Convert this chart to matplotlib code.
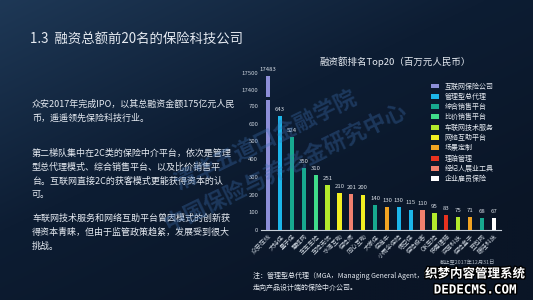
import numpy as np
import matplotlib
matplotlib.use("Agg")
import matplotlib.pyplot as plt
import matplotlib.patheffects as pe
from matplotlib.patches import Patch

plt.rcParams['font.family'] = ['Noto Sans CJK SC', 'DejaVu Sans']

companies = ["众安在线", "大特保", "量子保", "慧择网", "车车车险", "车险无忧", "水滴互助",
             "保险师", "同心互助", "大家保", "保准牛", "小雨伞保险", "悟空保", "保险极客",
             "OK车险", "快易理赔", "评驾科技", "保险盒子", "豆包网", "暖哇科技"]
values = [17483, 643, 524, 350, 310, 251, 210, 201, 200, 140, 130, 130, 115, 110,
          95, 83, 75, 71, 68, 67]
categories = ["互联网保险公司", "管理型总代理", "综合销售平台", "比价销售平台", "车联网技术服务",
              "网络互助平台", "场景定制", "理赔管理", "经纪人展业工具", "企业雇员保险"]
cat_colors = ["#8d8fd8", "#1cb6ea", "#17a98f", "#3fdc8a", "#b2ea2c",
              "#f2ee22", "#f0a322", "#e8321f", "#f0806e", "#ffffff"]
bar_cat = [0, 1, 2, 2, 3, 4, 5, 8, 5, 2, 6, 1, 1, 8, 4, 7, 4, 6, 2, 9]
bottom_ticks = [0, 100, 200, 300, 400, 500, 600, 700]
top_ticks = [17400, 17500]

W, H = 533, 300
fig = plt.figure(figsize=(W / 100, H / 100), dpi=100)

def fr(x0, y0, x1, y1):
    return [x0 / W, 1 - y1 / H, (x1 - x0) / W, (y1 - y0) / H]

# background gradient
bg = fig.add_axes([0, 0, 1, 1], zorder=-10)
yy, xx = np.mgrid[0:1:200j, 0:1:300j]
d = np.clip(0.55 * xx + 0.65 * yy, 0, 1)
c0 = np.array([0x1e, 0x38, 0x56]) / 255
c1 = np.array([0x0d, 0x1d, 0x33]) / 255
c2 = np.array([0x0a, 0x15, 0x26]) / 255
img = np.where(d[..., None] < 0.5,
               c0 + (c1 - c0) * (d[..., None] / 0.5),
               c1 + (c2 - c1) * ((d[..., None] - 0.5) / 0.5))
bg.imshow(img, aspect='auto', extent=[0, 1, 0, 1], origin='upper')
bg.set_xlim(0, 1); bg.set_ylim(0, 1)
bg.axis('off')

txtc = "#e6ebf2"
fig.text(30 / W, 1 - 40 / H, "1.3  融资总额前20名的保险科技公司", color=txtc,
         fontsize=9.6, va='center', ha='left')

paras = [
    (104, "众安2017年完成IPO，以其总融资金额175亿元人民"),
    (118, "币，遥遥领先保险科技行业。"),
    (153, "第二梯队集中在2C类的保险中介平台，依次是管理"),
    (167, "型总代理模式、综合销售平台、以及比价销售平"),
    (181, "台。互联网直接2C的获客模式更能获得资本的认"),
    (195, "可。"),
    (218, "车联网技术服务和网络互助平台曾因模式的创新获"),
    (232, "得资本青睐，但由于监管政策趋紧，发展受到很大"),
    (246, "挑战。"),
]
for y, t in paras:
    fig.text(32 / W, 1 - y / H, t, color=txtc, fontsize=6.5, va='center', ha='left')

x = np.arange(len(values))
colors = [cat_colors[c] for c in bar_cat]

ax_top = fig.add_axes(fr(261, 73, 501, 97.3))
ax_bot = fig.add_axes(fr(261, 99.5, 501, 230))
for ax in (ax_top, ax_bot):
    ax.set_facecolor('none')
    ax.bar(x, values, width=0.36, color=colors, zorder=3)
    ax.set_xlim(-0.6, len(values) - 0.4)
    for s in ax.spines.values():
        s.set_visible(False)
    ax.tick_params(length=0, labelsize=4.3, colors="#c8d0da", pad=2)
ax_top.set_ylim(17358, 17500)
ax_top.set_yticks(top_ticks)
ax_top.set_xticks([])
ax_bot.set_ylim(0, 736)
ax_bot.set_yticks(bottom_ticks)
ax_bot.spines['bottom'].set_visible(True)
ax_bot.spines['bottom'].set_color("#c8d0da")
ax_bot.spines['bottom'].set_linewidth(0.8)
ax_bot.set_xticks(x)
ax_bot.set_xticklabels(companies, rotation=45, ha='right', rotation_mode='anchor',
                       fontsize=4.5, color="#c8d0da")
ax_bot.tick_params(axis='x', pad=2)

for i, v in enumerate(values):
    ax = ax_top if v > 736 else ax_bot
    ax.annotate(str(v), (i, v), xytext=(0, 3), textcoords='offset points',
                ha='center', va='bottom', fontsize=4.3, color="#d8dee6")

fig.text(395 / W, 1 - 62 / H, "融资额排名Top20（百万元人民币）", color=txtc,
         fontsize=6.8, ha='center', va='center')

handles = [Patch(facecolor=c, edgecolor='none') for c in cat_colors]
leg = fig.legend(handles, categories, loc='upper left',
                 bbox_to_anchor=(428 / W, 1 - 79 / H), frameon=False,
                 fontsize=5, labelspacing=0.33, handlelength=1.1, handleheight=0.7,
                 handletextpad=0.8, borderpad=0)
for t in leg.get_texts():
    t.set_color(txtc)

fig.text(440 / W, 1 - 263 / H, "截止至2017年12月31日", color="#aab4c0",
         fontsize=3.8, ha='left', va='center')
fig.text(253 / W, 1 - 276 / H, "注：管理型总代理（MGA，Managing General Agent，脱离",
         color=txtc, fontsize=5, ha='left', va='center')
fig.text(253 / W, 1 - 288 / H, "走向产品设计端的保险中介公司。",
         color=txtc, fontsize=5, ha='left', va='center')

# faint watermark
fig.text(265 / W, 1 - 140 / H, "清华五道口金融学院", color="#3d6fb0", alpha=0.35,
         fontsize=16, rotation=26, ha='center', va='center', fontweight='bold')
fig.text(285 / W, 1 - 168 / H, "中国保险与养老金研究中心", color="#3d6fb0", alpha=0.35,
         fontsize=16, rotation=26, ha='center', va='center', fontweight='bold')

# site watermark
stroke = [pe.withStroke(linewidth=2, foreground='black')]
fig.text(475 / W, 1 - 274 / H, "织梦内容管理系统", color='white', fontsize=9,
         fontweight='bold', ha='center', va='center', path_effects=stroke)
fig.text(475 / W, 1 - 290 / H, "DEDECMS.COM", color='white', fontsize=9,
         fontweight='bold', ha='center', va='center', path_effects=stroke,
         family='DejaVu Sans Mono')

fig.savefig("out.png", dpi=100)
